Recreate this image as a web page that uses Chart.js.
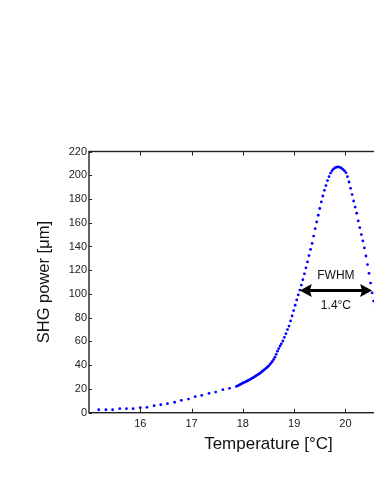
<!DOCTYPE html>
<html>
<head>
<meta charset="utf-8">
<script src="https://cdn.jsdelivr.net/npm/chart.js@4"></script>
<style>
  html, body { margin: 0; padding: 0; background: #fff; overflow: hidden; }
  canvas { display: block; }
</style>
</head>
<body>
<canvas id="chart" width="452" height="484"></canvas>
<script>
// temperature sweep [ºC] and measured SHG power
const temperature = [
  15.19, 15.33, 15.46, 15.60, 15.73, 15.86, 16.00, 16.13, 16.27, 16.40,
  16.53, 16.67, 16.80, 16.94, 17.07, 17.20, 17.34, 17.47, 17.61, 17.74,
  17.875, 17.90, 17.925, 17.95, 17.975, 18.00, 18.025, 18.05, 18.075, 18.10,
  18.125, 18.15, 18.175, 18.20, 18.225, 18.25, 18.275, 18.30, 18.325, 18.35,
  18.375, 18.40, 18.425, 18.45, 18.475, 18.50, 18.525, 18.55, 18.575, 18.60,
  18.625, 18.65, 18.675, 18.70, 18.725, 18.75,
  18.78, 18.81, 18.84, 18.87, 18.90, 18.93, 18.96, 18.99, 19.02, 19.05,
  19.08, 19.11, 19.14, 19.17, 19.20, 19.23, 19.26, 19.29, 19.32, 19.35,
  19.38, 19.41, 19.44, 19.47, 19.50, 19.53, 19.56, 19.59, 19.62, 19.65,
  19.68, 19.71, 19.74, 19.77, 19.80, 19.83, 19.86, 19.89, 19.92, 19.95,
  19.98, 20.01, 20.04, 20.07, 20.10, 20.13, 20.16, 20.19, 20.22, 20.25,
  20.28, 20.31, 20.34, 20.37, 20.40, 20.43, 20.46, 20.49, 20.52, 20.55,
  20.58, 20.61
];
const shgPower = [
  2.5, 2.5, 2.5, 3.4, 3.4, 3.4, 4.2, 4.5, 5.9, 6.7,
  7.6, 8.8, 10.4, 11.5, 13.5, 14.6, 16.3, 17.4, 19.4, 20.5,
  22.1, 22.6, 23.2, 23.8, 24.4, 25.0, 25.5, 26.0, 26.5, 27.1,
  27.6, 28.3, 28.9, 29.5, 30.2, 30.9, 31.6, 32.3, 33.0, 33.8,
  34.7, 35.6, 36.5, 37.4, 38.3, 39.3, 40.5, 41.8, 43.2, 44.9,
  46.8, 49.2, 51.8, 54.0, 56.2, 58.0,
  60.4, 63.5, 66.5, 70, 73, 77.3, 81.5, 86, 90.5, 95,
  99.2, 103.3, 107.5, 112, 117, 122, 127, 132.3, 137.5, 142.6,
  148.8, 155, 160.6, 166.3, 172, 177.5, 182.5, 187.3, 191.3, 195.5,
  198.8, 201.8, 203.8, 205.3, 206.4, 206.8, 207, 206.7, 206.1, 205,
  203.8, 202.2, 198.8, 194.3, 189, 183.7, 178.3, 173.2, 168, 161.5,
  155.8, 150, 144.7, 138.8, 132, 124.8, 117.4, 109.2, 101, 94,
  87.5, 81
];
const xTicks = [16, 17, 18, 19, 20, 21];
const xRange = [15, 22];
const yRange = [0, 220];
const yStep = 20;
const fwhmRange = [19.11, 20.52];
const fwhmLevel = 103;
const fwhmLabel = 'FWHM';
const fwhmWidthLabel = '1.4°C';

Chart.defaults.font.family = '"Liberation Sans", Arial, sans-serif';
Chart.defaults.color = '#222';

// box, inward ticks and the FWHM arrow
const frame = {
  id: 'frame',
  afterDatasetsDraw(chart) {
    const { ctx, chartArea: a, scales: { x, y } } = chart;
    ctx.save();
    ctx.strokeStyle = '#222';
    ctx.lineWidth = 1.4;
    ctx.strokeRect(a.left, a.top, a.right - a.left, a.bottom - a.top);
    ctx.lineWidth = 1;
    ctx.beginPath();
    x.ticks.forEach(t => {
      const px = Math.round(x.getPixelForValue(t.value)) + 0.5;
      ctx.moveTo(px, a.bottom); ctx.lineTo(px, a.bottom - 4);
      ctx.moveTo(px, a.top); ctx.lineTo(px, a.top + 4);
    });
    y.ticks.forEach(t => {
      const py = Math.round(y.getPixelForValue(t.value)) + 0.5;
      ctx.moveTo(a.left, py); ctx.lineTo(a.left + 3, py);
      ctx.moveTo(a.right, py); ctx.lineTo(a.right - 3, py);
    });
    ctx.stroke();

    const x1 = x.getPixelForValue(fwhmRange[0]);
    const x2 = x.getPixelForValue(fwhmRange[1]);
    const ay = y.getPixelForValue(fwhmLevel);
    const head = 12, half = 6.5;
    ctx.strokeStyle = '#000';
    ctx.fillStyle = '#000';
    ctx.lineWidth = 3;
    ctx.beginPath();
    ctx.moveTo(x1 + head - 2, ay); ctx.lineTo(x2 - head + 2, ay);
    ctx.stroke();
    ctx.beginPath();
    ctx.moveTo(x1, ay); ctx.lineTo(x1 + head, ay - half);
    ctx.lineTo(x1 + head - 2, ay); ctx.lineTo(x1 + head, ay + half);
    ctx.closePath(); ctx.fill();
    ctx.beginPath();
    ctx.moveTo(x2, ay); ctx.lineTo(x2 - head, ay - half);
    ctx.lineTo(x2 - head + 2, ay); ctx.lineTo(x2 - head, ay + half);
    ctx.closePath(); ctx.fill();

    ctx.font = '12px "Liberation Sans", Arial, sans-serif';
    ctx.fillStyle = '#111';
    ctx.textAlign = 'center';
    ctx.textBaseline = 'middle';
    ctx.fillText(fwhmLabel, (x1 + x2) / 2, ay - 15);
    ctx.fillText(fwhmWidthLabel, (x1 + x2) / 2, ay + 15);
    ctx.restore();
  }
};

new Chart(document.getElementById('chart'), {
  type: 'scatter',
  data: {
    datasets: [{
      data: temperature.map((t, i) => ({ x: t, y: shgPower[i] })),
      backgroundColor: '#0000ff',
      borderWidth: 0,
      pointRadius: 1.4
    }]
  },
  options: {
    responsive: false,
    animation: false,
    layout: { padding: { top: 151.5, right: 3, left: 0, bottom: 0 } },
    plugins: { legend: { display: false }, tooltip: { enabled: false } },
    scales: {
      x: {
        type: 'linear',
        min: xRange[0],
        max: xRange[1],
        afterBuildTicks: s => { s.ticks = xTicks.map(v => ({ value: v })); },
        afterFit: s => { s.height = 71.3; },
        grid: { display: false, drawTicks: false },
        border: { display: false },
        ticks: { font: { size: 11 }, padding: 5, maxRotation: 0 },
        title: {
          display: true,
          text: 'Temperature [°C]',
          font: { size: 17 },
          color: '#111',
          padding: { top: 0, bottom: 29 }
        }
      },
      y: {
        min: yRange[0],
        max: yRange[1],
        afterFit: s => { s.width = 89; },
        grid: { display: false, drawTicks: false },
        border: { display: false },
        ticks: { stepSize: yStep, font: { size: 11 }, padding: 2 },
        title: {
          display: true,
          text: 'SHG power [μm]',
          font: { size: 16.5 },
          color: '#111',
          padding: { top: 35, bottom: 0 }
        }
      }
    }
  },
  plugins: [frame]
});
</script>
</body>
</html>
